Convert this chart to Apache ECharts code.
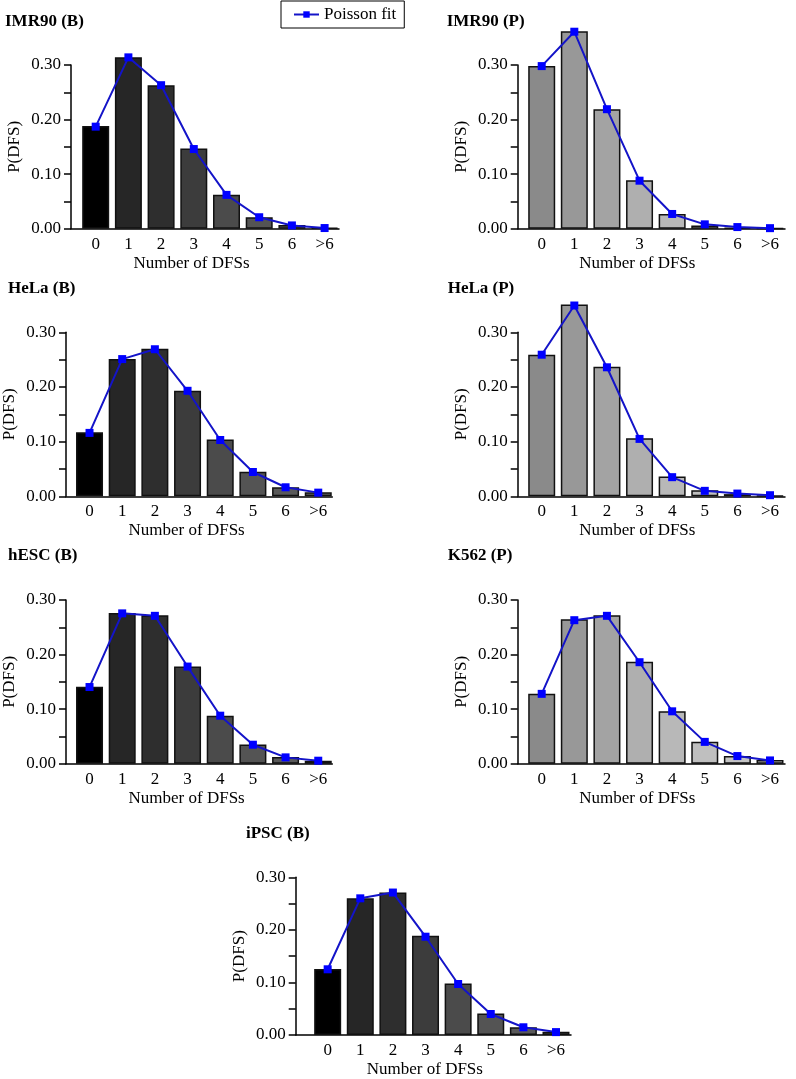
<!DOCTYPE html>
<html>
<head>
<meta charset="utf-8">
<script src="https://cdn.jsdelivr.net/npm/echarts@6/dist/echarts.min.js"></script>
<style>html,body{margin:0;padding:0;background:#fff}#c{width:796px;height:1079px}</style>
</head>
<body>
<div id="c"></div>
<script>
// ---- data ----
const categories = ['0', '1', '2', '3', '4', '5', '6', '>6'];
const yTicks = [0, 0.05, 0.10, 0.15, 0.20, 0.25, 0.30];
const yLabels = [0, 0.10, 0.20, 0.30];

const imr90B     = [0.188, 0.314, 0.263, 0.147, 0.062, 0.021, 0.0067, 0.002];
const imr90BFit  = [0.187, 0.314, 0.263, 0.146, 0.062, 0.021, 0.006, 0.0012];
const imr90P     = [0.298, 0.362, 0.219, 0.0886, 0.027, 0.006, 0.002, 0.0006];
const imr90PFit  = [0.298, 0.361, 0.219, 0.088, 0.027, 0.008, 0.003, 0.001];
const helaB      = [0.117, 0.251, 0.270, 0.193, 0.104, 0.045, 0.0165, 0.0073];
const helaBFit   = [0.116, 0.251, 0.269, 0.193, 0.103, 0.0445, 0.0165, 0.0067];
const helaP      = [0.259, 0.351, 0.237, 0.106, 0.036, 0.011, 0.004, 0.001];
const helaPFit   = [0.259, 0.349, 0.236, 0.105, 0.035, 0.010, 0.005, 0.002];
const hescB      = [0.141, 0.276, 0.272, 0.178, 0.088, 0.0354, 0.0122, 0.0055];
const hescBFit   = [0.1405, 0.2755, 0.271, 0.178, 0.088, 0.0348, 0.0116, 0.0055];
const k562P      = [0.128, 0.2645, 0.272, 0.187, 0.096, 0.040, 0.014, 0.0067];
const k562PFit   = [0.128, 0.263, 0.271, 0.186, 0.096, 0.040, 0.014, 0.006];
const ipscB      = [0.1255, 0.260, 0.271, 0.1886, 0.098, 0.041, 0.0147, 0.0061];
const ipscBFit   = [0.125, 0.260, 0.271, 0.187, 0.097, 0.040, 0.0147, 0.0055];

const panelTitles = ['IMR90 (B)', 'IMR90 (P)', 'HeLa (B)', 'HeLa (P)', 'hESC (B)', 'K562 (P)', 'iPSC (B)'];
const panelBars = [imr90B, imr90P, helaB, helaP, hescB, k562P, ipscB];
const panelFits = [imr90BFit, imr90PFit, helaBFit, helaPFit, hescBFit, k562PFit, ipscBFit];
const panelKind = ['B', 'P', 'B', 'P', 'B', 'P', 'B'];

// ---- styling / layout ----
const barColorsB = ['#000000', '#262626', '#2e2e2e', '#3c3c3c', '#4b4b4b', '#545454', '#595959', '#5e5e5e'];
const barColorsP = ['#8a8a8a', '#989898', '#a3a3a3', '#afafaf', '#b8b8b8', '#bfbfbf', '#c4c4c4', '#c8c8c8'];
const FONT = 'Liberation Serif';

const layout = [
  {left: 71,    top: 65,    width: 268,   height: 163.7, xmin: -0.755, xmax: 7.44, tl: 5,     tt: 13,    ns: 13.5},
  {left: 517.7, top: 65,    width: 267.3, height: 163.7, xmin: -0.736, xmax: 7.46, tl: 446.7, tt: 13,    ns: 14},
  {left: 65.7,  top: 332.3, width: 266.6, height: 164,   xmin: -0.72,  xmax: 7.43, tl: 8,     tt: 280,   ns: 12.5},
  {left: 517.7, top: 332.3, width: 267.3, height: 164,   xmin: -0.736, xmax: 7.46, tl: 447.7, tt: 280,   ns: 14},
  {left: 65.7,  top: 600,   width: 266.6, height: 163.7, xmin: -0.72,  xmax: 7.43, tl: 8,     tt: 547.5, ns: 12.5},
  {left: 517.7, top: 600,   width: 267.3, height: 163.7, xmin: -0.736, xmax: 7.46, tl: 447.7, tt: 547.5, ns: 14},
  {left: 295.7, top: 877.3, width: 275.3, height: 163.4, xmin: -0.98,  xmax: 7.46, tl: 246,   tt: 825,   ns: 8.5}
];

const grids = [], xAxes = [], yAxes = [], series = [], titles = [];
layout.forEach((L, i) => {
  grids.push({left: L.left, top: L.top, width: L.width, height: L.height, containLabel: false});
  titles.push({text: panelTitles[i], left: L.tl, top: L.tt, padding: 0,
    textStyle: {fontFamily: FONT, fontWeight: 'bold', fontSize: 17, color: '#000'}});
  xAxes.push({
    type: 'value', gridIndex: i, min: L.xmin, max: L.xmax,
    name: 'Number of DFSs', nameLocation: 'middle', nameGap: 26,
    nameTextStyle: {fontFamily: FONT, fontSize: 17, color: '#000', padding: [0, 2 * L.ns, 0, 0]},
    axisLine: {show: true, onZero: false, lineStyle: {color: '#000', width: 1.5}},
    axisTick: {show: false},
    splitLine: {show: false},
    axisLabel: {
      customValues: categories.map((c, k) => k),
      formatter: v => categories[Math.round(v)],
      fontFamily: FONT, fontSize: 17, color: '#000', margin: 7
    }
  });
  yAxes.push({
    type: 'value', gridIndex: i, min: yTicks[0], max: yTicks[yTicks.length - 1], interval: 0.05,
    name: 'P(DFS)', nameLocation: 'middle', nameGap: 48,
    nameTextStyle: {fontFamily: FONT, fontSize: 17, color: '#000'},
    axisLine: {show: true, onZero: false, lineStyle: {color: '#000', width: 1.5}},
    axisTick: {show: true, length: 7, customValues: yTicks, lineStyle: {color: '#000', width: 1.5}},
    splitLine: {show: false},
    axisLabel: {customValues: yLabels, formatter: v => v.toFixed(2), fontFamily: FONT, fontSize: 17, color: '#000', margin: 10}
  });
  const cols = panelKind[i] === 'B' ? barColorsB : barColorsP;
  series.push({
    type: 'bar', xAxisIndex: i, yAxisIndex: i, barWidth: 27, clip: false, silent: true,
    data: panelBars[i].map((v, k) => ({value: [k, v], itemStyle: {color: cols[k]}})),
    itemStyle: {borderColor: '#111', borderWidth: 1.5},
    z: 2
  });
  series.push({
    type: 'line', name: 'Poisson fit', xAxisIndex: i, yAxisIndex: i, clip: false, silent: true,
    data: panelFits[i].map((v, k) => [k, v]),
    symbol: 'rect', symbolSize: 8, showSymbol: true,
    itemStyle: {color: '#0000ff'},
    lineStyle: {color: '#1414c8', width: 2},
    z: 3
  });
});

const chart = echarts.init(document.getElementById('c'), null, {renderer: 'canvas'});
chart.setOption({
  animation: false,
  backgroundColor: '#fff',
  title: titles,
  legend: {
    data: ['Poisson fit'], left: 281, top: 1,
    borderColor: '#000', borderWidth: 1, padding: [5, 8, 5, 12],
    itemWidth: 25, itemHeight: 8, itemGap: 10,
    textStyle: {fontFamily: FONT, fontSize: 17, color: '#000'}
  },
  grid: grids, xAxis: xAxes, yAxis: yAxes, series: series
});
</script>
</body>
</html>
